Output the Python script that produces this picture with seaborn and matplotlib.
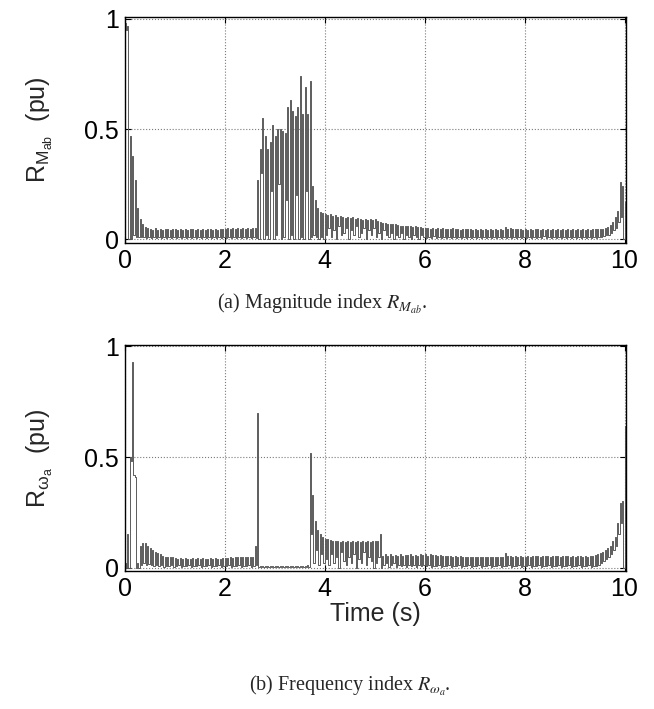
import numpy as np
import pandas as pd
import matplotlib
matplotlib.use("Agg")
import matplotlib.pyplot as plt
import seaborn as sns

# ---------------- data (sampled every 0.05 s, 0 .. 10 s) ----------------
time_s = [round(0.05 * k, 2) for k in range(201)]

mag_peak = [
    0.98, 0.97, 0.47, 0.38, 0.27, 0.14, 0.09, 0.07, 0.055, 0.05, 0.045, 0.04, 0.05, 0.042, 0.047, 0.04, 0.045, 0.048, 0.041, 0.046,
    0.047, 0.042, 0.046, 0.040, 0.048, 0.043, 0.045, 0.047, 0.041, 0.046, 0.044, 0.048, 0.042, 0.045, 0.047, 0.043, 0.046, 0.044, 0.048, 0.045,
    0.047, 0.050, 0.046, 0.049, 0.045, 0.050, 0.048, 0.050, 0.046, 0.050, 0.048, 0.050, 0.050, 0.27, 0.41, 0.55, 0.47, 0.41, 0.44, 0.52,
    0.47, 0.50, 0.50, 0.49, 0.48, 0.60, 0.63, 0.58, 0.56, 0.60, 0.74, 0.57, 0.69, 0.57, 0.72, 0.24, 0.18, 0.14, 0.125, 0.12,
    0.115, 0.11, 0.115, 0.105, 0.11, 0.10, 0.105, 0.10, 0.095, 0.10, 0.095, 0.10, 0.09, 0.095, 0.09, 0.088, 0.092, 0.088, 0.09, 0.087,
    0.09, 0.085, 0.08, 0.075, 0.072, 0.07, 0.07, 0.068, 0.068, 0.065, 0.062, 0.06, 0.062, 0.058, 0.06, 0.056, 0.058, 0.055, 0.056, 0.053,
    0.05, 0.052, 0.048, 0.05, 0.047, 0.05, 0.046, 0.049, 0.045, 0.048, 0.046, 0.049, 0.045, 0.047, 0.044, 0.048, 0.046, 0.045, 0.047, 0.044,
    0.046, 0.043, 0.047, 0.044, 0.046, 0.042, 0.045, 0.043, 0.046, 0.044, 0.045, 0.043, 0.055, 0.048, 0.05, 0.046, 0.048, 0.045, 0.047, 0.044,
    0.046, 0.043, 0.047, 0.044, 0.046, 0.045, 0.043, 0.046, 0.044, 0.045, 0.043, 0.046, 0.044, 0.045, 0.043, 0.046, 0.044, 0.045, 0.043, 0.046,
    0.044, 0.045, 0.043, 0.046, 0.044, 0.045, 0.043, 0.046, 0.045, 0.047, 0.046, 0.048, 0.05, 0.055, 0.065, 0.08, 0.10, 0.13, 0.26, 0.24,
    0.17,
]
mag_trough = [
    0.95, 0.0, 0.0, 0.02, 0.01, 0.01, 0.01, 0.008, 0.006, 0.01, 0.005, 0.008, 0.006, 0.01, 0.005, 0.008, 0.006, 0.01, 0.005, 0.008,
    0.006, 0.01, 0.005, 0.008, 0.006, 0.01, 0.005, 0.008, 0.006, 0.01, 0.005, 0.008, 0.006, 0.01, 0.005, 0.008, 0.006, 0.01, 0.005, 0.008,
    0.006, 0.01, 0.005, 0.008, 0.006, 0.01, 0.005, 0.008, 0.006, 0.01, 0.005, 0.008, 0.006, 0.0, 0.30, 0.0, 0.02, 0.0, 0.22, 0.0,
    0.02, 0.25, 0.0, 0.01, 0.18, 0.0, 0.02, 0.0, 0.20, 0.0, 0.01, 0.0, 0.22, 0.0, 0.01, 0.02, 0.01, 0.0, 0.01, 0.0,
    0.02, 0.05, 0.01, 0.04, 0.0, 0.06, 0.02, 0.03, 0.05, 0.0, 0.04, 0.02, 0.06, 0.01, 0.03, 0.05, 0.0, 0.04, 0.02, 0.05,
    0.01, 0.03, 0.0, 0.04, 0.02, 0.01, 0.03, 0.0, 0.02, 0.01, 0.03, 0.0, 0.02, 0.01, 0.0, 0.02, 0.01, 0.0, 0.02, 0.01,
    0.006, 0.01, 0.005, 0.015, 0.006, 0.01, 0.005, 0.008, 0.006, 0.012, 0.005, 0.008, 0.006, 0.01, 0.005, 0.008, 0.006, 0.01, 0.005, 0.008,
    0.006, 0.01, 0.005, 0.008, 0.006, 0.012, 0.005, 0.008, 0.006, 0.01, 0.005, 0.008, 0.006, 0.01, 0.005, 0.008, 0.006, 0.01, 0.005, 0.008,
    0.006, 0.01, 0.005, 0.008, 0.006, 0.01, 0.005, 0.015, 0.006, 0.01, 0.005, 0.008, 0.006, 0.01, 0.005, 0.008, 0.006, 0.01, 0.005, 0.008,
    0.006, 0.01, 0.005, 0.008, 0.006, 0.01, 0.005, 0.008, 0.006, 0.01, 0.01, 0.015, 0.02, 0.02, 0.03, 0.04, 0.05, 0.08, 0.10, 0.0,
    0.0,
]

freq_peak = [
    0.02, 0.15, 0.50, 0.93, 0.41, 0.02, 0.10, 0.11, 0.11, 0.10, 0.09, 0.08, 0.07, 0.065, 0.06, 0.055, 0.05, 0.05, 0.048, 0.05,
    0.042, 0.040, 0.043, 0.039, 0.042, 0.040, 0.041, 0.043, 0.039, 0.042, 0.040, 0.043, 0.041, 0.039, 0.042, 0.040, 0.043, 0.041, 0.040, 0.042,
    0.045, 0.042, 0.048, 0.044, 0.05, 0.046, 0.05, 0.048, 0.05, 0.05, 0.049, 0.05, 0.10, 0.70, 0.006, 0.006, 0.006, 0.006, 0.006, 0.006,
    0.006, 0.006, 0.006, 0.006, 0.006, 0.006, 0.006, 0.006, 0.006, 0.006, 0.006, 0.006, 0.006, 0.01, 0.52, 0.33, 0.21, 0.17, 0.15, 0.14,
    0.13, 0.13, 0.125, 0.12, 0.12, 0.12, 0.115, 0.12, 0.115, 0.12, 0.115, 0.12, 0.115, 0.12, 0.118, 0.12, 0.115, 0.12, 0.118, 0.12,
    0.12, 0.12, 0.15, 0.055, 0.06, 0.055, 0.06, 0.055, 0.058, 0.055, 0.06, 0.055, 0.058, 0.056, 0.06, 0.055, 0.058, 0.055, 0.06, 0.056,
    0.06, 0.055, 0.062, 0.056, 0.058, 0.055, 0.057, 0.053, 0.055, 0.052, 0.054, 0.05, 0.052, 0.05, 0.051, 0.049, 0.05, 0.048, 0.05, 0.048,
    0.048, 0.047, 0.049, 0.046, 0.048, 0.047, 0.049, 0.046, 0.048, 0.047, 0.049, 0.046, 0.065, 0.055, 0.052, 0.05, 0.052, 0.05, 0.052, 0.05,
    0.05, 0.052, 0.05, 0.053, 0.051, 0.052, 0.05, 0.053, 0.051, 0.052, 0.05, 0.053, 0.051, 0.052, 0.05, 0.052, 0.051, 0.053, 0.05, 0.052,
    0.05, 0.052, 0.051, 0.05, 0.052, 0.05, 0.053, 0.055, 0.058, 0.06, 0.065, 0.07, 0.08, 0.09, 0.10, 0.12, 0.14, 0.20, 0.29, 0.30,
    0.64,
]
freq_trough = [
    0.0, 0.0, 0.48, 0.42, 0.0, 0.0, 0.01, 0.02, 0.01, 0.015, 0.01, 0.008, 0.01, 0.006, 0.01, 0.005, 0.008, 0.006, 0.01, 0.005,
    0.006, 0.01, 0.005, 0.008, 0.006, 0.01, 0.005, 0.008, 0.006, 0.01, 0.005, 0.008, 0.006, 0.01, 0.005, 0.008, 0.006, 0.01, 0.005, 0.008,
    0.006, 0.01, 0.005, 0.008, 0.006, 0.01, 0.005, 0.008, 0.006, 0.01, 0.005, 0.008, 0.01, 0.005, 0.004, 0.004, 0.004, 0.004, 0.004, 0.004,
    0.004, 0.004, 0.004, 0.004, 0.004, 0.004, 0.004, 0.004, 0.004, 0.004, 0.004, 0.004, 0.004, 0.004, 0.15, 0.02, 0.08, 0.01, 0.06, 0.02,
    0.04, 0.01, 0.06, 0.02, 0.05, 0.0, 0.07, 0.03, 0.01, 0.05, 0.02, 0.06, 0.0, 0.04, 0.02, 0.07, 0.01, 0.05, 0.03, 0.0,
    0.02, 0.05, 0.0, 0.01, 0.02, 0.005, 0.01, 0.02, 0.005, 0.01, 0.006, 0.012, 0.005, 0.01, 0.006, 0.012, 0.005, 0.01, 0.006, 0.012,
    0.006, 0.01, 0.005, 0.008, 0.006, 0.01, 0.005, 0.008, 0.006, 0.01, 0.005, 0.008, 0.006, 0.01, 0.005, 0.008, 0.006, 0.01, 0.005, 0.008,
    0.006, 0.01, 0.005, 0.008, 0.006, 0.01, 0.005, 0.008, 0.006, 0.01, 0.005, 0.008, 0.006, 0.01, 0.005, 0.008, 0.006, 0.01, 0.005, 0.008,
    0.006, 0.01, 0.005, 0.008, 0.006, 0.01, 0.005, 0.008, 0.006, 0.01, 0.005, 0.008, 0.006, 0.01, 0.005, 0.008, 0.006, 0.01, 0.005, 0.008,
    0.006, 0.01, 0.005, 0.008, 0.006, 0.01, 0.005, 0.008, 0.006, 0.01, 0.02, 0.03, 0.04, 0.05, 0.06, 0.08, 0.10, 0.15, 0.20, 0.0,
    0.0,
]

x_ticks = [0, 2, 4, 6, 8, 10]
x_ticklabels = ["0", "2", "4", "6", "8", "10"]
y_ticks = [0, 0.5, 1]
y_ticklabels = ["0", "0.5", "1"]

# ---------------- style ----------------
sns.set_style("ticks")
plt.rcParams["font.family"] = ["Liberation Sans", "DejaVu Sans"]
plt.rcParams["mathtext.fontset"] = "custom"
plt.rcParams["mathtext.rm"] = "Liberation Sans"
plt.rcParams["mathtext.it"] = "Liberation Sans:italic"
plt.rcParams["mathtext.default"] = "regular"

LINE = "#5c5c5c"
TICK_FS = 18
W, H = 654, 709
fig = plt.figure(figsize=(W / 100, H / 100), dpi=100)
fig.patch.set_facecolor("white")


def ax_rect(left, top, right, bottom):
    return [left / W, 1 - bottom / H, (right - left) / W, (bottom - top) / H]


def signal_frame(t, peak, trough, hold=0.025):
    xs, ys = [], []
    for i, ti in enumerate(t):
        prev = trough[i - 1] if i > 0 else trough[0]
        xs += [ti, ti, ti + hold, ti + hold]
        ys += [prev, peak[i], peak[i], trough[i]]
    return pd.DataFrame({"t": xs, "v": ys})


def style_axes(ax, ylim):
    ax.set_xlim(0, 10.03)
    ax.set_ylim(*ylim)
    ax.set_xticks(x_ticks)
    ax.set_xticklabels(x_ticklabels)
    ax.set_yticks(y_ticks)
    ax.set_yticklabels(y_ticklabels)
    ax.tick_params(direction="in", length=4, width=0.8, labelsize=TICK_FS,
                   top=True, right=True, pad=4, colors="black")
    ax.grid(True, linestyle=":", color="#7a7a7a", linewidth=0.8)
    for s in ax.spines.values():
        s.set_visible(True)
        s.set_color("black")
        s.set_linewidth(1.0)
    ax.set_axisbelow(True)


# ---- top panel ----
ax1 = fig.add_axes(ax_rect(124.7, 16.7, 626, 243))
df1 = signal_frame(time_s, mag_peak, mag_trough)
sns.lineplot(data=df1, x="t", y="v", sort=False, estimator=None, ax=ax1,
             color=LINE, linewidth=0.7)
style_axes(ax1, (-0.017, 1.01))
ax1.set_xlabel("")
ax1.set_ylabel(r"R$_{M_{ab}}$  (pu)", fontsize=TICK_FS)
ax1.yaxis.set_label_coords(-0.14, 0.5)

# ---- bottom panel ----
ax2 = fig.add_axes(ax_rect(124.7, 345, 626, 571))
df2 = signal_frame(time_s, freq_peak, freq_trough)
sns.lineplot(data=df2, x="t", y="v", sort=False, estimator=None, ax=ax2,
             color=LINE, linewidth=0.7)
style_axes(ax2, (-0.015, 1.006))
ax2.set_xlabel("Time (s)", fontsize=TICK_FS, labelpad=1)
ax2.set_ylabel(r"R$_{\omega_a}$  (pu)", fontsize=TICK_FS)
ax2.yaxis.set_label_coords(-0.14, 0.5)

# ---- captions ----
fig.text(322 / W, 1 - 304 / H,
         r"(a) Magnitude index $\mathit{R}_{\mathit{M}_{\mathit{ab}}}$.",
         family=["Liberation Serif", "DejaVu Serif"], fontsize=14.5,
         ha="center", va="center", math_fontfamily="stix")
fig.text(350 / W, 1 - 686 / H,
         r"(b) Frequency index $\mathit{R}_{\mathit{\omega}_{\mathit{a}}}$.",
         family=["Liberation Serif", "DejaVu Serif"], fontsize=14.5,
         ha="center", va="center", math_fontfamily="stix")

fig.savefig("out.png", dpi=100, facecolor="white")
